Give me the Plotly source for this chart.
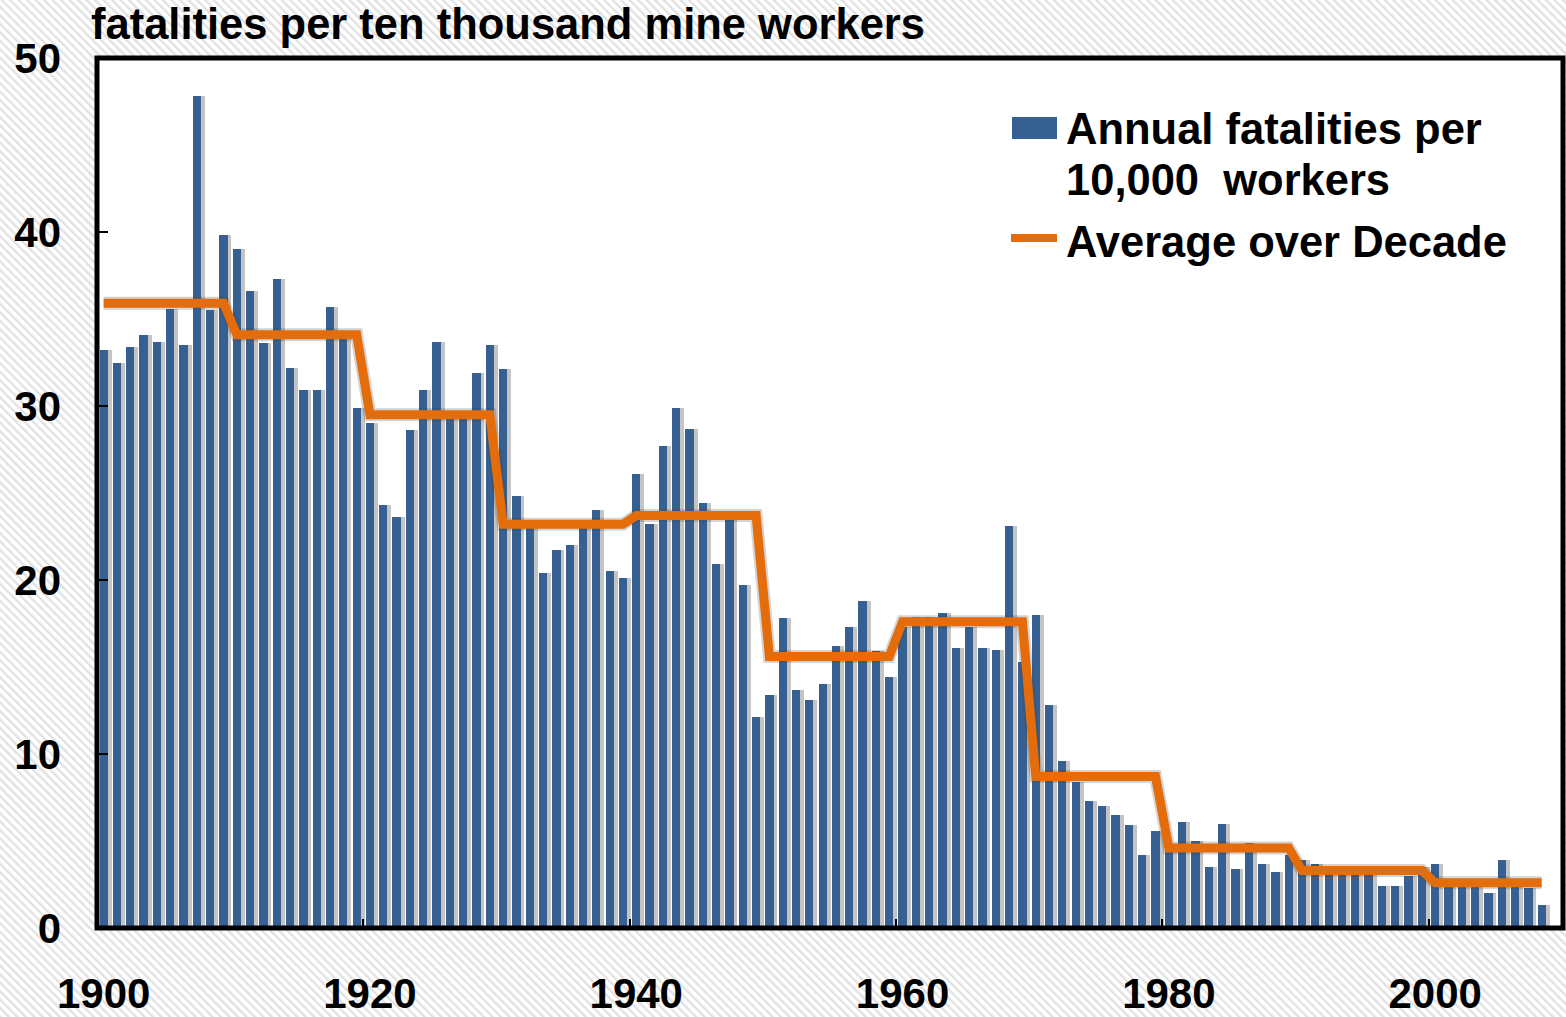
import base64
import plotly.graph_objects as go

# ---------------- data ----------------
years = list(range(1900, 2009))
annual_fatality_rate = [
    33.2, 32.5, 33.4, 34.1, 33.7, 35.6, 33.5, 47.8, 35.5, 39.8,   # 1900s
    39.0, 36.6, 33.6, 37.3, 32.2, 30.9, 30.9, 35.7, 34.0, 29.9,   # 1910s
    29.0, 24.3, 23.6, 28.6, 30.9, 33.7, 29.4, 29.4, 31.9, 33.5,   # 1920s
    32.1, 24.8, 23.2, 20.4, 21.7, 22.0, 23.0, 24.0, 20.5, 20.1,   # 1930s
    26.1, 23.2, 27.7, 29.9, 28.7, 24.4, 20.9, 23.5, 19.7, 12.1,   # 1940s
    13.4, 17.8, 13.7, 13.1, 14.0, 16.2, 17.3, 18.8, 15.9, 14.4,   # 1950s
    17.3, 17.9, 17.9, 18.1, 16.1, 17.3, 16.1, 16.0, 23.1, 15.3,   # 1960s
    18.0, 12.8, 9.6, 8.4, 7.3, 7.0, 6.5, 5.9, 4.2, 5.6,           # 1970s
    4.8, 6.1, 5.0, 3.5, 6.0, 3.4, 4.9, 3.7, 3.2, 4.2,             # 1980s
    3.9, 3.7, 3.3, 3.3, 3.5, 3.2, 2.4, 2.4, 3.0, 3.5,             # 1990s
    3.7, 2.7, 2.8, 2.6, 2.0, 3.9, 2.6, 2.3, 1.3,                  # 2000s
]
decade_starts = [1900, 1910, 1920, 1930, 1940, 1950, 1960, 1970, 1980, 1990, 2000]
decade_average = [35.9, 34.1, 29.5, 23.2, 23.7, 15.6, 17.6, 8.7, 4.6, 3.3, 2.6]

x_tick_values = [1900, 1920, 1940, 1960, 1980, 2000]
x_tick_labels = ["1900", "1920", "1940", "1960", "1980", "2000"]
y_tick_values = [0, 10, 20, 30, 40, 50]

title_text = "fatalities per ten thousand mine workers"
legend_bar_text = ["Annual fatalities per", "10,000  workers"]
legend_line_text = "Average over Decade"

# decade average repeated for every year of its decade
avg_lookup = dict(zip(decade_starts, decade_average))
decade_line = [avg_lookup[(y // 10) * 10] for y in years]

# ---------------- style ----------------
BAR_BLUE = "#376092"
ORANGE = "#E46C0A"
FONT = "Liberation Sans"
W, H = 1566, 1017
L, R, T, B = 97, 3, 58, 89
PW, PH = W - L - R, H - T - B


def px_x(px):
    return (px - L) / PW


def px_y(py):
    return (H - B - py) / PH


fig = go.Figure()

# soft shadow to the right of each bar
fig.add_trace(go.Bar(
    x=years, y=annual_fatality_rate, width=0.85, offset=-0.25,
    marker=dict(color="#c4c4c4", line=dict(width=0)),
    showlegend=False, hoverinfo="skip",
))
fig.add_trace(go.Bar(
    x=years, y=annual_fatality_rate, width=0.62,
    marker=dict(color=BAR_BLUE, line=dict(width=0)),
    name="Annual fatalities per 10,000 workers", showlegend=False,
))
fig.add_trace(go.Scatter(
    x=years, y=decade_line, mode="lines",
    line=dict(color="rgba(60,60,60,0.22)", width=13),
    showlegend=False, hoverinfo="skip",
))
fig.add_trace(go.Scatter(
    x=years, y=decade_line, mode="lines",
    line=dict(color=ORANGE, width=9),
    name="Average over Decade", showlegend=False,
))

# hatched background image
svg = (
    f"<svg xmlns='http://www.w3.org/2000/svg' width='{W}' height='{H}'>"
    "<defs><pattern id='h' width='6' height='6' patternUnits='userSpaceOnUse' "
    "patternTransform='rotate(-45)'>"
    "<rect width='6' height='6' fill='#ffffff'/>"
    "<rect width='2.4' height='6' fill='#e2e2e2'/></pattern></defs>"
    f"<rect width='{W}' height='{H}' fill='url(#h)'/></svg>"
)
svg_uri = "data:image/svg+xml;base64," + base64.b64encode(svg.encode()).decode()

fig.add_layout_image(dict(
    source=svg_uri, xref="paper", yref="paper",
    x=-L / PW, y=1 + T / PH, sizex=W / PW, sizey=H / PH,
    xanchor="left", yanchor="top", sizing="stretch", layer="below",
))

shapes = [
    # white plot area
    dict(type="rect", xref="paper", yref="paper", x0=0, x1=1, y0=0, y1=1,
         fillcolor="white", line=dict(width=0), layer="below"),
    # black frame
    dict(type="rect", xref="paper", yref="paper", x0=0, x1=1, y0=0, y1=1,
         fillcolor="rgba(0,0,0,0)", line=dict(color="black", width=5), layer="above"),
    # legend swatches
    dict(type="rect", xref="paper", yref="paper",
         x0=px_x(1012), x1=px_x(1057), y0=px_y(139), y1=px_y(117),
         fillcolor=BAR_BLUE, line=dict(width=0), layer="above"),
    dict(type="line", xref="paper", yref="paper",
         x0=px_x(1011), x1=px_x(1057), y0=px_y(238), y1=px_y(238),
         line=dict(color=ORANGE, width=8), layer="above"),
]

TXT = dict(family=FONT, size=43.5, color="black", weight="bold")
annotations = [
    dict(text=title_text, xref="paper", yref="paper", x=px_x(89), y=px_y(24),
         xanchor="left", yanchor="middle", showarrow=False, font=TXT),
    dict(text=legend_bar_text[0], xref="paper", yref="paper", x=px_x(1064), y=px_y(129),
         xanchor="left", yanchor="middle", showarrow=False, font=TXT),
    dict(text=legend_bar_text[1].replace("  ", "&nbsp; "), xref="paper", yref="paper",
         x=px_x(1064), y=px_y(180),
         xanchor="left", yanchor="middle", showarrow=False, font=TXT),
    dict(text=legend_line_text.replace("over ", "over&nbsp; ").replace("&nbsp; ", "&nbsp;"),
         xref="paper", yref="paper", x=px_x(1064), y=px_y(242),
         xanchor="left", yanchor="middle", showarrow=False, font=TXT),
]

fig.update_layout(
    width=W, height=H,
    margin=dict(l=L, r=R, t=T, b=B, pad=0, autoexpand=False),
    paper_bgcolor="white", plot_bgcolor="rgba(0,0,0,0)",
    barmode="overlay", bargap=0,
    showlegend=False,
    shapes=shapes, annotations=annotations,
    font=dict(family=FONT, size=42, color="black"),
)
fig.update_xaxes(
    range=[1899.5, 2009.6], tickvals=x_tick_values, ticktext=x_tick_labels,
    ticks="", showgrid=False, zeroline=False, showline=False, automargin=False,
    tickfont=dict(family=FONT, size=42, color="black", weight="bold"),
    ticklabelstandoff=37,
    minor=dict(tickvals=[v - 0.5 for v in x_tick_values[1:]], ticks="inside",
               ticklen=9, tickwidth=2, tickcolor="black", showgrid=False),
)
fig.update_yaxes(
    range=[0, 50], tickvals=y_tick_values, ticks="inside", ticklen=11,
    tickwidth=2, tickcolor="black", showgrid=False, zeroline=False, showline=False,
    automargin=False,
    tickfont=dict(family=FONT, size=42, color="black", weight="bold"),
    ticklabelstandoff=35,
)

fig.write_html(
    "out.html",
    config={"displayModeBar": False},
    post_script="document.body.style.margin='0';document.body.style.padding='0';",
)
